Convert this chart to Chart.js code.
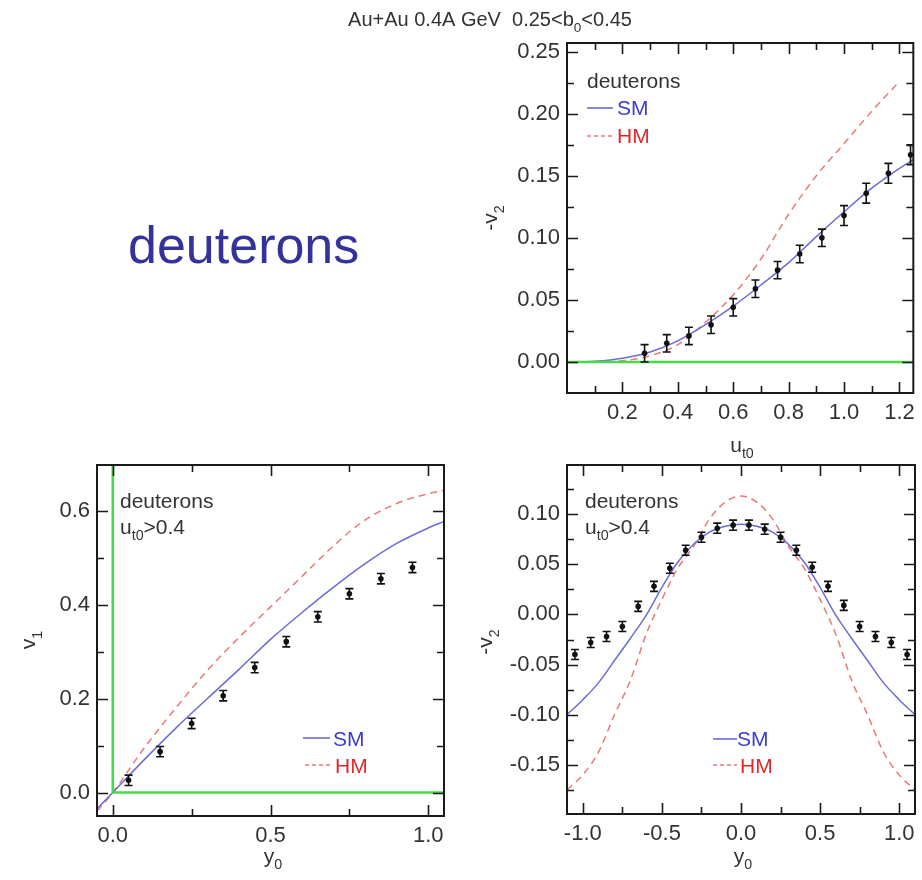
<!DOCTYPE html>
<html>
<head>
<meta charset="utf-8">
<script src="https://cdn.jsdelivr.net/npm/chart.js@4.4.0/dist/chart.umd.min.js"></script>
<style>
  html, body { margin: 0; padding: 0; background: #fff; }
  #wrap { position: relative; width: 922px; height: 880px; overflow: hidden; background: #fff; }
  #wrap canvas { position: absolute; left: 0; top: 0; }
</style>
</head>
<body>
<div id="wrap">
  <canvas id="panelUt" width="922" height="880"></canvas>
  <canvas id="panelV1" width="922" height="880"></canvas>
  <canvas id="panelV2" width="922" height="880"></canvas>
</div>
<script>
// ---------- -v2 versus transverse 4-velocity u_t0 ----------
const utPoints   = [0.28, 0.36, 0.44, 0.52, 0.60, 0.68, 0.76, 0.84, 0.92, 1.00, 1.08, 1.16, 1.24];
const v2UtPoints = [0.007, 0.015, 0.021, 0.030, 0.044, 0.059, 0.074, 0.087, 0.100, 0.118, 0.136, 0.152, 0.167];
const v2UtErrors = [0.007, 0.007, 0.007, 0.007, 0.007, 0.007, 0.007, 0.007, 0.007, 0.008, 0.008, 0.008, 0.008];
const utSmGrid   = [0.05, 0.1, 0.2, 0.3, 0.4, 0.5, 0.6, 0.7, 0.8, 0.9, 1.0, 1.1, 1.2, 1.25];
const v2UtSm     = [0.0, 0.0005, 0.003, 0.008, 0.017, 0.030, 0.045, 0.062, 0.080, 0.101, 0.121, 0.140, 0.156, 0.163];
const utHmGrid   = [0.1, 0.2, 0.3, 0.4, 0.5, 0.6, 0.7, 0.8, 0.9, 1.0, 1.1, 1.2];
const v2UtHm     = [0.0, 0.001, 0.005, 0.014, 0.032, 0.054, 0.083, 0.119, 0.150, 0.176, 0.202, 0.226];
const utTicks    = [0.2, 0.4, 0.6, 0.8, 1.0, 1.2];
const utMinor    = [0.1, 0.3, 0.5, 0.7, 0.9, 1.1];
const v2UtTicks  = [0.00, 0.05, 0.10, 0.15, 0.20, 0.25];
const v2UtMinor  = [0.025, 0.075, 0.125, 0.175, 0.225];

// ---------- v1 versus rapidity y0 ----------
const y0PointsV1 = [0.05, 0.15, 0.25, 0.35, 0.45, 0.55, 0.65, 0.75, 0.85, 0.95];
const v1Points   = [0.026, 0.087, 0.147, 0.206, 0.266, 0.321, 0.374, 0.423, 0.455, 0.479];
const v1Errors   = [0.011, 0.011, 0.011, 0.011, 0.011, 0.011, 0.011, 0.011, 0.011, 0.011];
const y0GridV1   = [-0.05, 0.0, 0.1, 0.2, 0.3, 0.4, 0.5, 0.6, 0.7, 0.8, 0.9, 1.0, 1.05];
const v1Sm       = [-0.035, 0.0, 0.070, 0.137, 0.200, 0.262, 0.326, 0.383, 0.437, 0.487, 0.530, 0.563, 0.577];
const v1Hm       = [-0.040, 0.0, 0.095, 0.180, 0.260, 0.330, 0.395, 0.460, 0.525, 0.580, 0.615, 0.636, 0.643];
const y0TicksV1  = [0.0, 0.5, 1.0];
const y0MinorV1  = [0.25, 0.75];
const v1Ticks    = [0.0, 0.2, 0.4, 0.6];
const v1Minor    = [0.1, 0.3, 0.5];

// ---------- -v2 versus rapidity y0 ----------
const y0PointsV2 = [-1.05, -0.95, -0.85, -0.75, -0.65, -0.55, -0.45, -0.35, -0.25, -0.15, -0.05,
                     0.05,  0.15,  0.25,  0.35,  0.45,  0.55,  0.65,  0.75,  0.85,  0.95,  1.05];
const v2Y0Points = [-0.040, -0.028, -0.022, -0.012, 0.008, 0.028, 0.046, 0.064, 0.077, 0.086, 0.089,
                     0.089,  0.085,  0.077,  0.064, 0.047, 0.028, 0.009, -0.012, -0.022, -0.028, -0.040];
const v2Y0Errors = [0.005, 0.005, 0.005, 0.005, 0.005, 0.005, 0.005, 0.005, 0.005, 0.005, 0.005,
                    0.005, 0.005, 0.005, 0.005, 0.005, 0.005, 0.005, 0.005, 0.005, 0.005, 0.005];
const y0GridV2   = [-1.1, -1.0, -0.9, -0.8, -0.7, -0.6, -0.5, -0.4, -0.3, -0.2, -0.1, 0.0,
                     0.1,  0.2,  0.3,  0.4,  0.5,  0.6,  0.7,  0.8,  0.9,  1.0,  1.1];
const v2Y0Sm     = [-0.100, -0.085, -0.068, -0.046, -0.024, -0.001, 0.027, 0.052, 0.070, 0.082, 0.088, 0.090,
                     0.088,  0.082,  0.070,  0.052,  0.027, -0.001, -0.024, -0.046, -0.068, -0.085, -0.100];
const v2Y0Hm     = [-0.175, -0.160, -0.137, -0.100, -0.066, -0.020, 0.015, 0.046, 0.068, 0.095, 0.112, 0.118,
                     0.112,  0.095,  0.068,  0.046,  0.015, -0.020, -0.066, -0.100, -0.137, -0.160, -0.175];
const y0TicksV2  = [-1.0, -0.5, 0.0, 0.5, 1.0];
const y0MinorV2  = [-0.75, -0.25, 0.25, 0.75];
const v2Y0Ticks  = [-0.15, -0.10, -0.05, 0.00, 0.05, 0.10];
const v2Y0Minor  = [-0.175, -0.125, -0.075, -0.025, 0.025, 0.075, 0.125];

// ---------- styling ----------
const FONT = "'Liberation Sans', Arial, Helvetica, sans-serif";
const TICK_SIZE = 22;
const W = 922, H = 880;
const SM_LINE = '#6c6cd6', HM_LINE = '#e87a7a', ZERO_LINE = '#45dc45';
const SM_TEXT = '#3c3cd4', HM_TEXT = '#e02a2a', INK = '#333333', FRAME = '#1a1a1a';

const fontStr = size => `${size}px ${FONT}`;
const zip = (xs, ys) => xs.map((x, i) => ({ x, y: ys[i] }));

function drawRich(ctx, parts, x, y, size, color, align) {
  const sizes = parts.map(p => p.sub ? size * 0.68 : size);
  const widths = parts.map((p, i) => { ctx.font = fontStr(sizes[i]); return ctx.measureText(p.t).width; });
  const total = widths.reduce((a, b) => a + b, 0);
  let cx = align === 'center' ? x - total / 2 : x;
  ctx.fillStyle = color;
  ctx.textAlign = 'left';
  ctx.textBaseline = 'alphabetic';
  parts.forEach((p, i) => {
    ctx.font = fontStr(sizes[i]);
    ctx.fillText(p.t, cx, y + (p.sub ? size * 0.3 : 0));
    cx += widths[i];
  });
}

function panelPlugin(cfg) {
  return {
    id: 'decor_' + cfg.name,
    afterDatasetsDraw(chart) {
      const { ctx, chartArea: a } = chart;
      const xs = chart.scales.x, ys = chart.scales.y;
      ctx.save();
      ctx.beginPath();
      ctx.rect(a.left, a.top, a.right - a.left, a.bottom - a.top);
      ctx.clip();
      ctx.strokeStyle = '#111';
      ctx.lineWidth = 1.6;
      chart.data.datasets.forEach(ds => {
        if (!ds.errorBars) return;
        ds.data.forEach((pt, i) => {
          const e = ds.errorBars[i];
          const px = xs.getPixelForValue(pt.x);
          const y1 = ys.getPixelForValue(pt.y - e), y2 = ys.getPixelForValue(pt.y + e);
          ctx.beginPath();
          ctx.moveTo(px, y1); ctx.lineTo(px, y2);
          ctx.moveTo(px - 4, y1); ctx.lineTo(px + 4, y1);
          ctx.moveTo(px - 4, y2); ctx.lineTo(px + 4, y2);
          ctx.stroke();
        });
      });
      ctx.restore();
    },
    afterDraw(chart) {
      const { ctx, chartArea: a } = chart;
      const xs = chart.scales.x, ys = chart.scales.y;
      ctx.save();
      // inward tick marks on all four sides
      ctx.strokeStyle = FRAME;
      ctx.lineWidth = 1.6;
      const xMarks = (vals, len) => vals.forEach(v => {
        const px = Math.round(xs.getPixelForValue(v)) + 0.5;
        ctx.beginPath();
        ctx.moveTo(px, a.bottom); ctx.lineTo(px, a.bottom - len);
        ctx.moveTo(px, a.top); ctx.lineTo(px, a.top + len);
        ctx.stroke();
      });
      const yMarks = (vals, len) => vals.forEach(v => {
        const py = Math.round(ys.getPixelForValue(v)) + 0.5;
        ctx.beginPath();
        ctx.moveTo(a.left, py); ctx.lineTo(a.left + len, py);
        ctx.moveTo(a.right, py); ctx.lineTo(a.right - len, py);
        ctx.stroke();
      });
      xMarks(cfg.xTicks, 11); xMarks(cfg.xMinor, 7);
      yMarks(cfg.yTicks, 11); yMarks(cfg.yMinor, 7);
      // frame
      ctx.lineWidth = 2;
      ctx.strokeRect(a.left, a.top, a.right - a.left, a.bottom - a.top);
      // legend keys
      cfg.keys.forEach(k => {
        ctx.beginPath();
        ctx.strokeStyle = k.color;
        ctx.lineWidth = 1.6;
        ctx.setLineDash(k.dash || []);
        ctx.moveTo(k.x1, k.y); ctx.lineTo(k.x2, k.y);
        ctx.stroke();
        ctx.setLineDash([]);
      });
      // texts
      cfg.texts.forEach(t => {
        if (t.rotate) {
          ctx.save();
          ctx.translate(t.x, t.y);
          ctx.rotate(-Math.PI / 2);
          drawRich(ctx, t.parts, 0, t.size * 0.35, t.size, t.color, 'center');
          ctx.restore();
        } else {
          drawRich(ctx, t.parts, t.x, t.y, t.size, t.color, t.align || 'left');
        }
      });
      ctx.restore();
    }
  };
}

function makePanel(id, cfg) {
  const b = cfg.box;
  return new Chart(document.getElementById(id), {
    type: 'scatter',
    data: { datasets: cfg.datasets },
    options: {
      responsive: false,
      animation: false,
      devicePixelRatio: 1,
      layout: { padding: { left: 0, top: b.t, right: W - b.r, bottom: 0 } },
      plugins: { legend: { display: false }, tooltip: { enabled: false } },
      scales: {
        x: {
          type: 'linear', position: 'bottom', min: cfg.xMin, max: cfg.xMax,
          grid: { display: false, drawTicks: false }, border: { display: false },
          ticks: { font: { family: FONT, size: TICK_SIZE }, color: INK, padding: 7, maxRotation: 0, autoSkip: false,
                   callback: v => Number(v).toFixed(cfg.xDec) },
          afterBuildTicks: s => { s.ticks = cfg.xTicks.map(v => ({ value: v })); },
          afterFit: s => { s.height = H - b.b; }
        },
        y: {
          type: 'linear', position: 'left', min: cfg.yMin, max: cfg.yMax,
          grid: { display: false, drawTicks: false }, border: { display: false },
          ticks: { font: { family: FONT, size: TICK_SIZE }, color: INK, padding: 7, autoSkip: false,
                   callback: v => Number(v).toFixed(cfg.yDec) },
          afterBuildTicks: s => { s.ticks = cfg.yTicks.map(v => ({ value: v })); },
          afterFit: s => { s.width = b.l; }
        }
      }
    },
    plugins: [panelPlugin(cfg)]
  });
}

const pointsSet = (xs, ys, errs) => ({
  data: zip(xs, ys), errorBars: errs, showLine: false,
  pointRadius: 2.8, pointBackgroundColor: '#111', pointBorderWidth: 0, order: 0
});
const curveSet = (xs, ys, color, dash) => ({
  data: zip(xs, ys), showLine: true, pointRadius: 0, borderColor: color, borderWidth: 1.5,
  borderDash: dash || [], cubicInterpolationMode: 'monotone', order: 2
});
const zeroSet = pts => ({
  data: pts, showLine: true, pointRadius: 0, borderColor: ZERO_LINE, borderWidth: 2.6, tension: 0, order: 1
});

// Upper panel: -v2(u_t0)
makePanel('panelUt', {
  name: 'ut',
  box: { l: 567, t: 43, r: 916, b: 393 },
  xMin: 0, xMax: 1.25, yMin: -0.025, yMax: 0.257,
  xDec: 1, yDec: 2,
  xTicks: utTicks, xMinor: utMinor, yTicks: v2UtTicks, yMinor: v2UtMinor,
  datasets: [
    pointsSet(utPoints, v2UtPoints, v2UtErrors),
    zeroSet([{ x: 0, y: 0 }, { x: 1.25, y: 0 }]),
    curveSet(utSmGrid, v2UtSm, SM_LINE),
    curveSet(utHmGrid, v2UtHm, HM_LINE, [7, 5])
  ],
  keys: [
    { x1: 587, x2: 613, y: 108, color: SM_LINE },
    { x1: 587, x2: 613, y: 136, color: HM_LINE, dash: [4, 3] }
  ],
  texts: [
    { parts: [{ t: 'Au+Au 0.4A GeV  0.25<b' }, { t: '0', sub: true }, { t: '<0.45' }], x: 490, y: 26, size: 20, color: INK, align: 'center' },
    { parts: [{ t: 'deuterons' }], x: 128, y: 263, size: 52, color: '#333399' },
    { parts: [{ t: 'deuterons' }], x: 587, y: 88, size: 21, color: INK },
    { parts: [{ t: 'SM' }], x: 617, y: 115, size: 21, color: SM_TEXT },
    { parts: [{ t: 'HM' }], x: 617, y: 143, size: 21, color: HM_TEXT },
    { parts: [{ t: '-v' }, { t: '2', sub: true }], x: 490, y: 218, size: 21, color: INK, rotate: true },
    { parts: [{ t: 'u' }, { t: 't0', sub: true }], x: 742, y: 452, size: 21, color: INK, align: 'center' }
  ]
});

// Lower left panel: v1(y0)
makePanel('panelV1', {
  name: 'v1',
  box: { l: 97, t: 465, r: 444, b: 816 },
  xMin: -0.05, xMax: 1.05, yMin: -0.05, yMax: 0.697,
  xDec: 1, yDec: 1,
  xTicks: y0TicksV1, xMinor: y0MinorV1, yTicks: v1Ticks, yMinor: v1Minor,
  datasets: [
    pointsSet(y0PointsV1, v1Points, v1Errors),
    zeroSet([{ x: 0, y: 0 }, { x: 1.05, y: 0 }]),
    zeroSet([{ x: 0, y: 0 }, { x: 0, y: 0.697 }]),
    curveSet(y0GridV1, v1Sm, SM_LINE),
    curveSet(y0GridV1, v1Hm, HM_LINE, [7, 5])
  ],
  keys: [
    { x1: 303, x2: 330, y: 738, color: SM_LINE },
    { x1: 305, x2: 330, y: 765, color: HM_LINE, dash: [4, 3] }
  ],
  texts: [
    { parts: [{ t: 'deuterons' }], x: 120, y: 508, size: 21, color: INK },
    { parts: [{ t: 'u' }, { t: 't0', sub: true }, { t: '>0.4' }], x: 120, y: 534, size: 21, color: INK },
    { parts: [{ t: 'SM' }], x: 333, y: 746, size: 21, color: SM_TEXT },
    { parts: [{ t: 'HM' }], x: 335, y: 773, size: 21, color: HM_TEXT },
    { parts: [{ t: 'v' }, { t: '1', sub: true }], x: 28, y: 640, size: 21, color: INK, rotate: true },
    { parts: [{ t: 'y' }, { t: '0', sub: true }], x: 273, y: 863, size: 21, color: INK, align: 'center' }
  ]
});

// Lower right panel: -v2(y0)
makePanel('panelV2', {
  name: 'v2',
  box: { l: 567, t: 465, r: 915, b: 814 },
  xMin: -1.1, xMax: 1.1, yMin: -0.199, yMax: 0.149,
  xDec: 1, yDec: 2,
  xTicks: y0TicksV2, xMinor: y0MinorV2, yTicks: v2Y0Ticks, yMinor: v2Y0Minor,
  datasets: [
    pointsSet(y0PointsV2, v2Y0Points, v2Y0Errors),
    curveSet(y0GridV2, v2Y0Sm, SM_LINE),
    curveSet(y0GridV2, v2Y0Hm, HM_LINE, [7, 5])
  ],
  keys: [
    { x1: 713, x2: 737, y: 739, color: SM_LINE },
    { x1: 713, x2: 737, y: 765, color: HM_LINE, dash: [4, 3] }
  ],
  texts: [
    { parts: [{ t: 'deuterons' }], x: 585, y: 508, size: 21, color: INK },
    { parts: [{ t: 'u' }, { t: 't0', sub: true }, { t: '>0.4' }], x: 585, y: 534, size: 21, color: INK },
    { parts: [{ t: 'SM' }], x: 737, y: 746, size: 21, color: SM_TEXT },
    { parts: [{ t: 'HM' }], x: 740, y: 773, size: 21, color: HM_TEXT },
    { parts: [{ t: '-v' }, { t: '2', sub: true }], x: 485, y: 642, size: 21, color: INK, rotate: true },
    { parts: [{ t: 'y' }, { t: '0', sub: true }], x: 743, y: 863, size: 21, color: INK, align: 'center' }
  ]
});
</script>
</body>
</html>
